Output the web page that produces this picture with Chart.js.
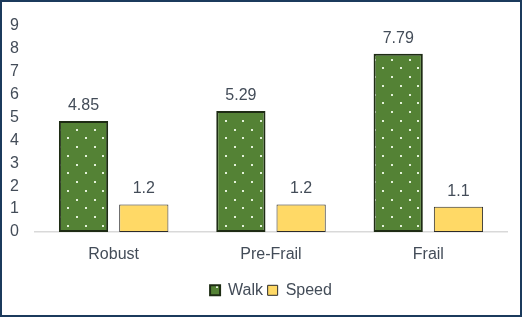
<!DOCTYPE html>
<html>
<head>
<meta charset="utf-8">
<script src="https://cdn.jsdelivr.net/npm/chart.js@4/dist/chart.umd.min.js"></script>
<style>
  html, body { margin: 0; padding: 0; background: #fff; }
  #wrap {
    width: 522px; height: 317px; box-sizing: border-box;
    border: 2px solid #1b3a5c; background: #fff;
  }
  #chart { display: block; }
</style>
</head>
<body>
<div id="wrap"><canvas id="chart" width="518" height="313"></canvas></div>
<script>
const categories = ["Robust", "Pre-Frail", "Frail"];
const walkValues = [4.85, 5.29, 7.79];
const speedValues = [1.2, 1.2, 1.1];
const seriesNames = ["Walk", "Speed"];

const TEXT = "#434c58";
const FONT = "'Liberation Sans', Arial, sans-serif";

// ------------------------------
// dotted pattern for the green bars
// ------------------------------
function makeDots() {
  const c = document.createElement("canvas");
  c.width = 35; c.height = 35;
  const g = c.getContext("2d");
  g.fillStyle = "#548235";
  g.fillRect(0, 0, 35, 35);
  g.fillStyle = "#e4f2da";
  const s = 8.75;
  for (let r = 0; r < 4; r++) {
    for (let k = 0; k < 2; k++) {
      const x = (r % 2 ? s : 0) + k * 2 * s + 4;
      const y = r * s + 4;
      g.fillRect(Math.round(x), Math.round(y), 2, 2);
    }
  }
  return g.createPattern(c, "repeat");
}

// ------------------------------
// value labels above bars
// ------------------------------
const valueLabels = {
  id: "valueLabels",
  afterDatasetsDraw(chart) {
    const ctx = chart.ctx;
    ctx.save();
    ctx.fillStyle = TEXT;
    ctx.font = "16px " + FONT;
    ctx.textAlign = "center";
    ctx.textBaseline = "alphabetic";
    chart.data.datasets.forEach((ds, i) => {
      chart.getDatasetMeta(i).data.forEach((bar, j) => {
        ctx.fillText(String(ds.data[j]), bar.x, bar.y - 11);
      });
    });
    ctx.restore();
  }
};

const ctx = document.getElementById("chart");
new Chart(ctx, {
  type: "bar",
  data: {
    labels: categories,
    datasets: [
      {
        label: seriesNames[0],
        data: walkValues,
        backgroundColor: makeDots(),
        borderColor: "#1e2c14",
        borderWidth: 2,
        borderSkipped: false
      },
      {
        label: seriesNames[1],
        data: speedValues,
        backgroundColor: "#ffd966",
        borderColor: "#2b2b2b",
        borderWidth: 1,
        borderSkipped: false
      }
    ]
  },
  options: {
    responsive: false,
    animation: false,
    categoryPercentage: 0.766,
    barPercentage: 0.817,
    layout: { padding: { left: 0, right: 13, top: 24, bottom: 6.7 } },
    plugins: {
      tooltip: { enabled: false },
      legend: {
        position: "bottom",
        fullSize: false,
        labels: {
          color: TEXT,
          font: { family: FONT, size: 16 },
          boxWidth: 10,
          boxHeight: 10,
          padding: 4.6
        }
      }
    },
    scales: {
      x: {
        grid: { display: true, drawOnChartArea: false, drawTicks: false },
        border: { display: true, color: "#d9d9d9", width: 1.5 },
        ticks: { color: TEXT, font: { family: FONT, size: 16 }, padding: 13.3 }
      },
      y: {
        min: 0,
        max: 9,
        grid: { display: false },
        border: { display: false },
        ticks: {
          stepSize: 1,
          color: TEXT,
          font: { family: FONT, size: 16 },
          padding: 8
        },
        afterFit: s => { s.width = 33; }
      }
    }
  },
  plugins: [valueLabels]
});
</script>
</body>
</html>
